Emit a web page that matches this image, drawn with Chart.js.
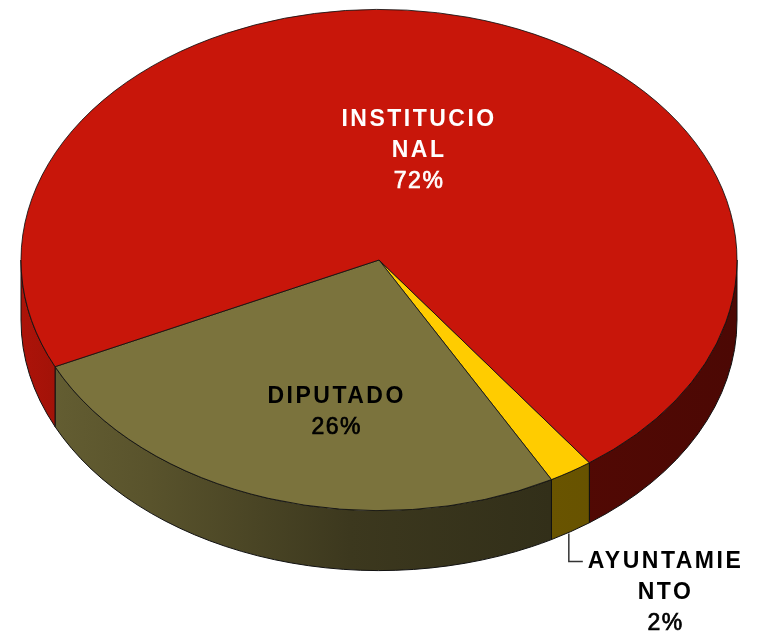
<!DOCTYPE html>
<html>
<head>
    <meta charset="utf-8" />
    <title>Origen</title>
    <script src="https://cdn.jsdelivr.net/npm/chart.js@4.4.1/dist/chart.umd.min.js"></script>
    <style>
        html, body { margin: 0; padding: 0; background: #fff; overflow: hidden; }
        #dvPastel { width: 763px; height: 633px; position: relative; }
    </style>
</head>
<body>
    <div id="dvPastel"><canvas id="chtOrigen"></canvas></div>

    <script>
        // datos
        const categorias = ['AYUNTAMIENTO', 'DIPUTADO', 'INSTITUCIONAL'];
        const etiquetas = [['AYUNTAMIE', 'NTO'], ['DIPUTADO'], ['INSTITUCIO', 'NAL']];
        const valores = [2, 26, 72];
        const colores = ['#FFCC00', '#7B733D', '#C8160A'];

        const ACHATE = 0.7;     // relacion alto/ancho de la cara superior
        const CENTRO_Y = 260;   // centro de la cara superior en pantalla
        const GROSOR = 60;      // alto de la pared lateral

        // sombreado de la pared, de izquierda a derecha
        const sombra = [[0, .86], [.06, .80], [.18, .72], [.46, .49], [.74, .41], [1, .38]];

        function tono(hex, f) {
            const n = parseInt(hex.slice(1), 16);
            const r = Math.round(((n >> 16) & 255) * f);
            const g = Math.round(((n >> 8) & 255) * f);
            const b = Math.round((n & 255) * f);
            return 'rgb(' + r + ',' + g + ',' + b + ')';
        }

        // punto sobre la elipse superior para un angulo del pastel
        function puntoElipse(arc, ang, f) {
            return {
                x: arc.x + Math.cos(ang) * arc.outerRadius * f,
                y: CENTRO_Y + Math.sin(ang) * arc.outerRadius * ACHATE * f
            };
        }

        const pastel3d = {
            id: 'pastel3d',
            beforeDatasetsDraw(chart) {
                const ctx = chart.ctx;
                const arcs = chart.getDatasetMeta(0).data;

                // paredes frontales
                arcs.forEach((arc, i) => {
                    const R = arc.outerRadius;
                    for (let k = -1; k <= 2; k++) {
                        const a1 = Math.max(arc.startAngle, 2 * Math.PI * k);
                        const a2 = Math.min(arc.endAngle, 2 * Math.PI * k + Math.PI);
                        if (a2 <= a1) continue;
                        const grad = ctx.createLinearGradient(arc.x - R, 0, arc.x + R, 0);
                        sombra.forEach(s => grad.addColorStop(s[0], tono(colores[i], s[1])));
                        ctx.beginPath();
                        ctx.ellipse(arc.x, CENTRO_Y, R, R * ACHATE, 0, a1, a2);
                        ctx.ellipse(arc.x, CENTRO_Y + GROSOR, R, R * ACHATE, 0, a2, a1, true);
                        ctx.closePath();
                        ctx.fillStyle = grad;
                        ctx.fill();
                        ctx.strokeStyle = '#111';
                        ctx.lineWidth = 1;
                        ctx.stroke();
                    }
                });

                // cara superior achatada
                ctx.save();
                ctx.translate(0, CENTRO_Y);
                ctx.scale(1, ACHATE);
                ctx.translate(0, -arcs[0].y);
            },
            afterDatasetsDraw(chart, args, opts) {
                const ctx = chart.ctx;
                ctx.restore();

                const arcs = chart.getDatasetMeta(0).data;
                const total = valores.reduce((a, b) => a + b, 0);
                const fNombre = 'bold 23px "Liberation Sans", Arial, sans-serif';
                const fPct = '23px "Liberation Sans", Arial, sans-serif';
                const alto = 31;

                ctx.save();
                ctx.textAlign = 'center';
                ctx.textBaseline = 'middle';

                arcs.forEach((arc, i) => {
                    const o = opts.pos[i];
                    const medio = (arc.startAngle + arc.endAngle) / 2 + o.giro * Math.PI / 180;
                    const lineas = etiquetas[i].concat([Math.round(valores[i] / total * 100) + '%']);
                    let cx, cy;

                    if (o.fuera) {
                        // linea guia desde el pie de la pared
                        const p = puntoElipse(arc, medio, 1);
                        const y0 = p.y + GROSOR;
                        ctx.beginPath();
                        ctx.moveTo(p.x - 2, y0 + 2);
                        ctx.lineTo(p.x - 2, y0 + 30);
                        ctx.lineTo(p.x + 12, y0 + 30);
                        ctx.strokeStyle = '#333';
                        ctx.lineWidth = 1.5;
                        ctx.stroke();
                        ctx.font = fNombre;
                        ctx.letterSpacing = '2.5px';
                        const ancho = ctx.measureText(lineas[0]).width;
                        cx = p.x + 17 + ancho / 2;
                        cy = y0 + 30;
                    } else {
                        const p = puntoElipse(arc, medio, o.f);
                        cx = p.x;
                        cy = p.y - (lineas.length - 1) * alto / 2;
                    }

                    lineas.forEach((t, j) => {
                        const esPct = j === lineas.length - 1;
                        ctx.font = esPct ? fPct : fNombre;
                        ctx.letterSpacing = esPct ? '1.5px' : '2.5px';
                        ctx.fillStyle = o.color;
                        ctx.fillText(t, cx, cy + j * alto);
                        if (esPct) {
                            // trazo fino para engrosar un poco el porcentaje
                            ctx.strokeStyle = o.color;
                            ctx.lineWidth = 0.7;
                            ctx.strokeText(t, cx, cy + j * alto);
                        }
                    });
                });
                ctx.restore();
            }
        };

        const ctx = document.getElementById('chtOrigen').getContext('2d');
        new Chart(ctx, {
            type: 'pie',
            data: {
                labels: categorias,
                datasets: [{
                    data: valores,
                    backgroundColor: colores,
                    borderColor: '#111',
                    borderWidth: 1,
                    hoverOffset: 0,
                    clip: false
                }]
            },
            options: {
                responsive: true,
                maintainAspectRatio: false,
                animation: false,
                rotation: 144,
                radius: 358,
                layout: { padding: { left: 0, right: 5, top: 0, bottom: 0 } },
                events: [],
                plugins: {
                    legend: { display: false },
                    tooltip: { enabled: false },
                    pastel3d: {
                        pos: [
                            { fuera: true, giro: 0, color: '#000' },
                            { f: 0.62, giro: -7, color: '#000' },
                            { f: 0.45, giro: 0, color: '#fff' }
                        ]
                    }
                }
            },
            plugins: [pastel3d]
        });
    </script>
</body>
</html>
